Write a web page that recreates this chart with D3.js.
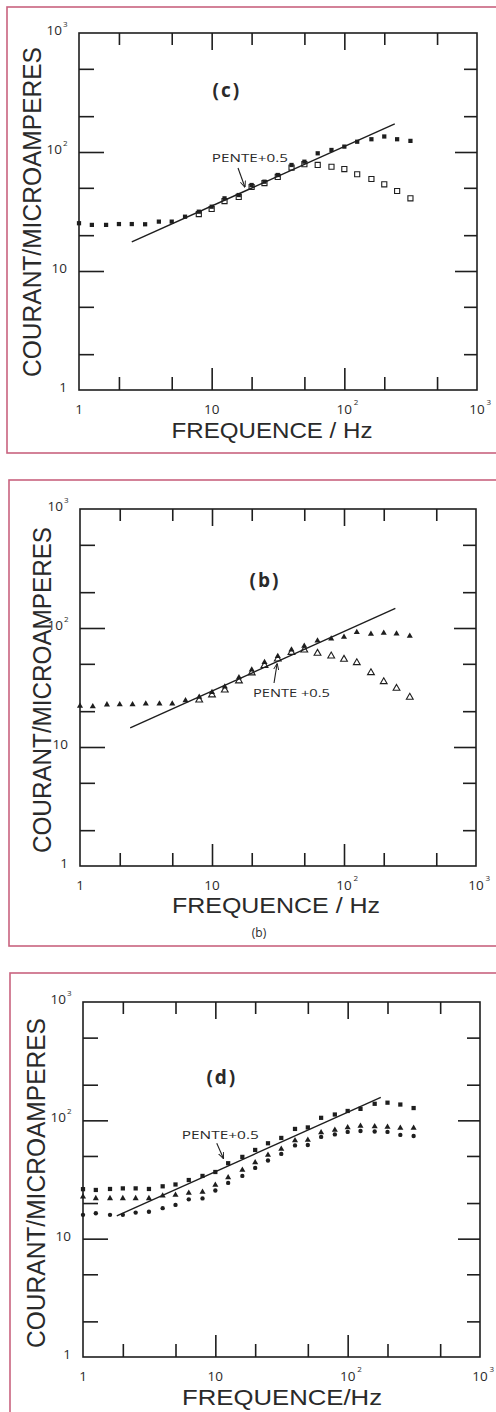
<!DOCTYPE html>
<html>
<head>
<meta charset="utf-8">
<script src="https://cdn.jsdelivr.net/npm/d3@7"></script>
<style>
  html, body { margin: 0; padding: 0; background: #fff; }
  svg { display: block; }
  text { font-family: "Open Sans", "DejaVu Sans", sans-serif; fill: #2a2a2a; }
  text.title { font-family: "Liberation Sans", "DejaVu Sans", sans-serif; }
</style>
</head>
<body>
<svg id="fig" width="496" height="1412"></svg>
<script>
// Third-octave measurement frequencies (Hz)
const freqs = [1, 1.25, 1.6, 2, 2.5, 3.15, 4, 5, 6.3, 8, 10, 12.5, 16, 20, 25, 31.5, 40, 50, 63, 80, 100, 125, 160, 200, 250, 315];
const branchFreqs = [8, 10, 12.5, 16, 20, 25, 31.5, 40, 50, 63, 80, 100, 125, 160, 200, 250, 315];

// Panel (c): current in microamperes
const cFilled = [25.2, 24.4, 24.4, 24.8, 24.8, 24.7, 26.0, 26.0, 28.6, 31.5, 34.7, 40.8, 43.5, 52.8, 56.3, 64.1, 77.8, 82.9, 97.5, 104, 111, 122, 128, 135, 128, 124];
const cOpen = [30.1, 33.2, 38.7, 41.9, 50.8, 54.8, 61.7, 74, 79, 77.8, 75.2, 71.9, 65.0, 59.3, 53.5, 47.0, 40.8];
const cSlopeF = [2.5, 240];
const cSlopeI = [17.6, 172];

// Panel (b)
const bFilled = [22.1, 21.9, 22.7, 22.8, 22.8, 23.1, 23.1, 23.1, 24.6, 26.3, 28.8, 32.1, 38.4, 44.6, 51.5, 57.8, 65.7, 70.6, 78.2, 81.3, 84.0, 92.2, 89.1, 90.8, 89.6, 85.7];
const bOpen = [24.8, 27.4, 30.1, 35.9, 41.9, 48.4, 54.9, 62.3, 65.3, 61.3, 58.2, 54.6, 51.1, 42.1, 35.4, 31.1, 26.2];
const bSlopeF = [2.4, 245];
const bSlopeI = [14.5, 146];

// Panel (d)
const dSquares = [26.2, 25.8, 26.3, 26.6, 26.6, 26.3, 27.7, 28.7, 31.3, 33.9, 36.6, 43.4, 49.1, 56.2, 64.0, 71.0, 84.6, 87.1, 105, 112, 120, 125, 138, 141, 136, 127];
const dTriangles = [22.6, 21.9, 21.9, 21.9, 21.9, 21.9, 23.0, 23.4, 24.3, 24.8, 28.4, 32.9, 38.1, 44.1, 51.0, 57.3, 67.6, 68.3, 79.0, 83.0, 87.1, 89.7, 88.8, 88.0, 86.2, 86.2];
const dCircles = [15.9, 16.4, 15.9, 15.9, 16.6, 16.9, 18.1, 19.3, 21.5, 21.9, 25.5, 29.6, 33.9, 39.6, 45.8, 52.0, 61.4, 61.9, 72.4, 76.0, 79.8, 81.3, 80.5, 79.8, 75.3, 73.8];
const dSlopeF = [1.8, 178];
const dSlopeI = [15.6, 156];

// Axis decades and their labels
const decades = [1, 10, 100, 1000];
const decadeBase = ["1", "10", "10", "10"];
const decadeExp = ["", "", "2", "3"];
const minorTicks = [2, 5, 20, 50, 200, 500];
const majorTicks = [10, 100];

const INK = "#1e1e1e";
const svg = d3.select("#fig");

svg.append("defs").append("marker")
  .attr("id", "arrow").attr("viewBox", "0 0 10 10")
  .attr("refX", 9).attr("refY", 5)
  .attr("markerWidth", 6).attr("markerHeight", 6)
  .attr("orient", "auto-start-reverse")
  .append("path").attr("d", "M0,1 L10,5 L0,9").attr("fill", "none")
  .attr("stroke", INK).attr("stroke-width", 1.4);

const symbols = {
  squareFilled: { type: d3.symbolSquare, size: 18, fill: INK, stroke: "none" },
  squareOpen: { type: d3.symbolSquare, size: 26, fill: "none", stroke: INK },
  triFilled: { type: d3.symbolTriangle, size: 16, fill: INK, stroke: "none" },
  triOpen: { type: d3.symbolTriangle, size: 20, fill: "none", stroke: INK },
  dot: { type: d3.symbolCircle, size: 15, fill: INK, stroke: "none" }
};

function drawPanel(p) {
  const g = svg.append("g");

  // outer coloured frame
  g.append("rect")
    .attr("x", p.frame[0]).attr("y", p.frame[1])
    .attr("width", p.frame[2]).attr("height", p.frame[3])
    .attr("fill", "none").attr("stroke", "#c9637f").attr("stroke-width", 1.6);

  const x = d3.scaleLog().domain([1, 1000]).range([p.left, p.right]);
  const y = d3.scaleLog().domain([1, 1000]).range([p.bottom, p.top]);

  // plot box
  g.append("rect")
    .attr("x", p.left).attr("y", p.top)
    .attr("width", p.right - p.left).attr("height", p.bottom - p.top)
    .attr("fill", "none").attr("stroke", INK).attr("stroke-width", 1.6);

  // inward ticks on all four sides
  const sides = [
    { fn: d3.axisBottom, s: x, t: `translate(0,${p.bottom})`, minor: 13, major: 22 },
    { fn: d3.axisTop, s: x, t: `translate(0,${p.top})`, minor: 12, major: 17 },
    { fn: d3.axisLeft, s: y, t: `translate(${p.left},0)`, minor: 15, major: 25 },
    { fn: d3.axisRight, s: y, t: `translate(${p.right},0)`, minor: 13, major: 22 }
  ];
  sides.forEach(sd => {
    [[minorTicks, sd.minor], [majorTicks, sd.major]].forEach(([vals, len]) => {
      g.append("g").attr("transform", sd.t)
        .call(sd.fn(sd.s).tickValues(vals).tickSize(-len).tickSizeOuter(0).tickFormat(""))
        .call(a => a.select(".domain").remove())
        .call(a => a.selectAll(".tick line").attr("stroke", INK).attr("stroke-width", 1.6));
    });
  });

  // x decade labels
  decades.forEach((v, i) => {
    const tx = x(v);
    g.append("text").attr("x", tx).attr("y", p.bottom + 23.5)
      .attr("text-anchor", "middle").attr("font-size", 13.5)
      .text(decadeBase[i]);
    if (decadeExp[i]) {
      g.append("text").attr("x", tx + 9.5).attr("y", p.bottom + 15)
        .attr("font-size", 8).text(decadeExp[i]);
    }
  });
  // y decade labels
  decades.forEach((v, i) => {
    const ty = y(v) + 2;
    const rx = p.left - (decadeExp[i] ? 17 : 12);
    g.append("text").attr("x", rx).attr("y", ty)
      .attr("text-anchor", "end").attr("font-size", 13.5)
      .text(decadeBase[i]);
    if (decadeExp[i]) {
      g.append("text").attr("x", rx + 1).attr("y", ty - 8)
        .attr("font-size", 8).text(decadeExp[i]);
    }
  });

  // axis titles
  g.append("text").attr("class", "title")
    .attr("x", p.xTitle[0]).attr("y", p.xTitle[1])
    .attr("text-anchor", "middle").attr("font-size", 22.5)
    .attr("textLength", p.xTitle[2]).attr("lengthAdjust", "spacingAndGlyphs")
    .text(p.xTitleText);
  g.append("text").attr("class", "title")
    .attr("transform", `translate(${p.yTitle[0]},${p.yTitle[1]}) rotate(-90)`)
    .attr("text-anchor", "middle").attr("font-size", 25)
    .attr("textLength", p.yTitle[2]).attr("lengthAdjust", "spacingAndGlyphs")
    .text("COURANT/MICROAMPERES");

  // slope line
  const pts = p.slopeF.map((f, i) => [f, p.slopeI[i]]);
  g.append("path").datum(pts)
    .attr("d", d3.line().x(d => x(d[0])).y(d => y(d[1])))
    .attr("fill", "none").attr("stroke", INK).attr("stroke-width", 1.4);

  // data series
  p.series.forEach(s => {
    const sym = symbols[s.sym];
    const gen = d3.symbol().type(sym.type).size(sym.size);
    g.append("g").selectAll("path").data(s.f.map((f, i) => [f, s.v[i]]))
      .join("path")
      .attr("transform", d => `translate(${x(d[0])},${y(d[1])})`)
      .attr("d", gen)
      .attr("fill", sym.fill).attr("stroke", sym.stroke).attr("stroke-width", 1.1);
  });

  // slope annotation
  g.append("text")
    .attr("x", x(p.note.at[0])).attr("y", y(p.note.at[1]) + 4)
    .attr("text-anchor", "middle").attr("font-size", 11)
    .attr("textLength", p.note.w).attr("lengthAdjust", "spacingAndGlyphs")
    .text(p.note.text);
  g.append("line")
    .attr("x1", x(p.note.from[0])).attr("y1", y(p.note.from[1]))
    .attr("x2", x(p.note.to[0])).attr("y2", y(p.note.to[1]))
    .attr("stroke", INK).attr("stroke-width", 1.1)
    .attr("marker-end", "url(#arrow)");

  // panel letter
  g.append("text")
    .attr("x", x(p.tag.at[0])).attr("y", y(p.tag.at[1]) + 7)
    .attr("text-anchor", "middle").attr("font-size", 19).attr("font-weight", 700)
    .attr("letter-spacing", 2)
    .text(p.tag.text);

  if (p.caption) {
    g.append("text")
      .attr("x", p.caption[0]).attr("y", p.caption[1])
      .attr("text-anchor", "middle").attr("font-size", 12)
      .text(p.caption[2]);
  }
}

drawPanel({
  frame: [7, 7, 500, 446],
  left: 79, right: 477, top: 33, bottom: 390,
  xTitle: [272, 438, 201], xTitleText: "FREQUENCE / Hz",
  yTitle: [41, 212, 330],
  slopeF: cSlopeF, slopeI: cSlopeI,
  series: [
    { f: freqs, v: cFilled, sym: "squareFilled" },
    { f: branchFreqs, v: cOpen, sym: "squareOpen" }
  ],
  note: { text: "PENTE+0.5", at: [19.4, 89], w: 76, from: [15.8, 73.4], to: [17.8, 50.8] },
  tag: { text: "(c)", at: [13.0, 332] }
});

drawPanel({
  frame: [9, 480, 500, 466],
  left: 80, right: 476, top: 509, bottom: 866,
  xTitle: [276, 913, 208], xTitleText: "FREQUENCE / Hz",
  yTitle: [51, 690, 326],
  slopeF: bSlopeF, slopeI: bSlopeI,
  series: [
    { f: freqs, v: bFilled, sym: "triFilled" },
    { f: branchFreqs, v: bOpen, sym: "triOpen" }
  ],
  note: { text: "PENTE +0.5", at: [40, 28.6], w: 77, from: [29.5, 34.5], to: [31.1, 49.8] },
  tag: { text: "(b)", at: [25.2, 253] },
  caption: [259, 937, "(b)"]
});

drawPanel({
  frame: [10, 973, 500, 500],
  left: 83, right: 480, top: 1002, bottom: 1357,
  xTitle: [282, 1405, 200], xTitleText: "FREQUENCE/Hz",
  yTitle: [45, 1183, 330],
  slopeF: dSlopeF, slopeI: dSlopeI,
  series: [
    { f: freqs, v: dSquares, sym: "squareFilled" },
    { f: freqs, v: dTriangles, sym: "triFilled" },
    { f: freqs, v: dCircles, sym: "dot" }
  ],
  note: { text: "PENTE+0.5", at: [10.9, 75.3], w: 77, from: [10.25, 64], to: [11.5, 47.8] },
  tag: { text: "(d)", at: [11.2, 233] }
});
</script>
</body>
</html>
